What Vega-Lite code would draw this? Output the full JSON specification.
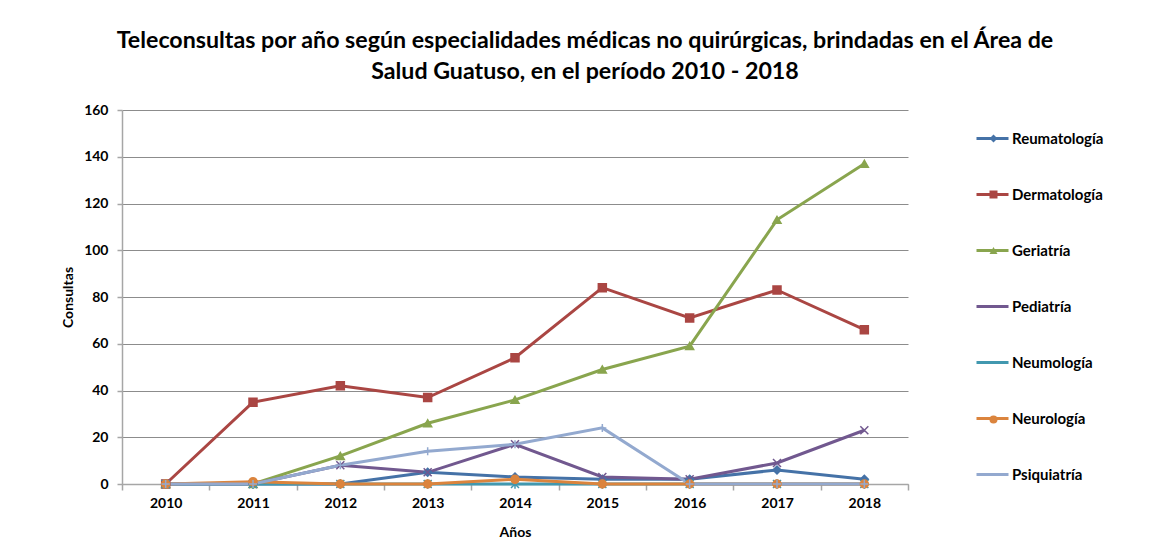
{
  "$schema": "https://vega.github.io/schema/vega-lite/v6.json",
  "width": 786,
  "height": 374,
  "autosize": {"type": "none"},
  "padding": {"left": 122, "top": 110, "right": 249, "bottom": 62},
  "background": "white",
  "title": {
    "text": ["Teleconsultas por año según especialidades médicas no quirúrgicas, brindadas en el Área de", "Salud Guatuso, en el período 2010 - 2018"],
    "font": "Lato",
    "fontSize": 23.2,
    "fontWeight": "bold",
    "color": "black",
    "anchor": "middle",
    "frame": "group",
    "dx": 70,
    "lineHeight": 31,
    "offset": 19
  },
  "config": {
    "view": {"stroke": null},
    "legend": {
      "symbolBaseFillColor": {"expr": "scale('color', datum.value)"}
    },
    "axis": {
      "labelFont": "Lato",
      "labelFontSize": 14,
      "labelFontWeight": "bold",
      "labelColor": "black",
      "titleFont": "Lato",
      "titleFontSize": 14,
      "titleFontWeight": "bold",
      "titleColor": "black",
      "domainColor": "#a6a6a6",
      "tickColor": "#a6a6a6",
      "domainWidth": 1.5,
      "tickWidth": 1.5
    }
  },
  "data": {
    "values": [
      {"Año": "2010", "Especialidad": "Reumatología", "Consultas": 0},
      {"Año": "2011", "Especialidad": "Reumatología", "Consultas": 0},
      {"Año": "2012", "Especialidad": "Reumatología", "Consultas": 0},
      {"Año": "2013", "Especialidad": "Reumatología", "Consultas": 5},
      {"Año": "2014", "Especialidad": "Reumatología", "Consultas": 3},
      {"Año": "2015", "Especialidad": "Reumatología", "Consultas": 2},
      {"Año": "2016", "Especialidad": "Reumatología", "Consultas": 2},
      {"Año": "2017", "Especialidad": "Reumatología", "Consultas": 6},
      {"Año": "2018", "Especialidad": "Reumatología", "Consultas": 2},
      {"Año": "2010", "Especialidad": "Dermatología", "Consultas": 0},
      {"Año": "2011", "Especialidad": "Dermatología", "Consultas": 35},
      {"Año": "2012", "Especialidad": "Dermatología", "Consultas": 42},
      {"Año": "2013", "Especialidad": "Dermatología", "Consultas": 37},
      {"Año": "2014", "Especialidad": "Dermatología", "Consultas": 54},
      {"Año": "2015", "Especialidad": "Dermatología", "Consultas": 84},
      {"Año": "2016", "Especialidad": "Dermatología", "Consultas": 71},
      {"Año": "2017", "Especialidad": "Dermatología", "Consultas": 83},
      {"Año": "2018", "Especialidad": "Dermatología", "Consultas": 66},
      {"Año": "2010", "Especialidad": "Geriatría", "Consultas": 0},
      {"Año": "2011", "Especialidad": "Geriatría", "Consultas": 0},
      {"Año": "2012", "Especialidad": "Geriatría", "Consultas": 12},
      {"Año": "2013", "Especialidad": "Geriatría", "Consultas": 26},
      {"Año": "2014", "Especialidad": "Geriatría", "Consultas": 36},
      {"Año": "2015", "Especialidad": "Geriatría", "Consultas": 49},
      {"Año": "2016", "Especialidad": "Geriatría", "Consultas": 59},
      {"Año": "2017", "Especialidad": "Geriatría", "Consultas": 113},
      {"Año": "2018", "Especialidad": "Geriatría", "Consultas": 137},
      {"Año": "2010", "Especialidad": "Pediatría", "Consultas": 0},
      {"Año": "2011", "Especialidad": "Pediatría", "Consultas": 0},
      {"Año": "2012", "Especialidad": "Pediatría", "Consultas": 8},
      {"Año": "2013", "Especialidad": "Pediatría", "Consultas": 5},
      {"Año": "2014", "Especialidad": "Pediatría", "Consultas": 17},
      {"Año": "2015", "Especialidad": "Pediatría", "Consultas": 3},
      {"Año": "2016", "Especialidad": "Pediatría", "Consultas": 2},
      {"Año": "2017", "Especialidad": "Pediatría", "Consultas": 9},
      {"Año": "2018", "Especialidad": "Pediatría", "Consultas": 23},
      {"Año": "2010", "Especialidad": "Neumología", "Consultas": 0},
      {"Año": "2011", "Especialidad": "Neumología", "Consultas": 0},
      {"Año": "2012", "Especialidad": "Neumología", "Consultas": 0},
      {"Año": "2013", "Especialidad": "Neumología", "Consultas": 0},
      {"Año": "2014", "Especialidad": "Neumología", "Consultas": 0},
      {"Año": "2015", "Especialidad": "Neumología", "Consultas": 0},
      {"Año": "2016", "Especialidad": "Neumología", "Consultas": 0},
      {"Año": "2017", "Especialidad": "Neumología", "Consultas": 0},
      {"Año": "2018", "Especialidad": "Neumología", "Consultas": 0},
      {"Año": "2010", "Especialidad": "Neurología", "Consultas": 0},
      {"Año": "2011", "Especialidad": "Neurología", "Consultas": 1},
      {"Año": "2012", "Especialidad": "Neurología", "Consultas": 0},
      {"Año": "2013", "Especialidad": "Neurología", "Consultas": 0},
      {"Año": "2014", "Especialidad": "Neurología", "Consultas": 2},
      {"Año": "2015", "Especialidad": "Neurología", "Consultas": 0},
      {"Año": "2016", "Especialidad": "Neurología", "Consultas": 0},
      {"Año": "2017", "Especialidad": "Neurología", "Consultas": 0},
      {"Año": "2018", "Especialidad": "Neurología", "Consultas": 0},
      {"Año": "2010", "Especialidad": "Psiquiatría", "Consultas": 0},
      {"Año": "2011", "Especialidad": "Psiquiatría", "Consultas": 0},
      {"Año": "2012", "Especialidad": "Psiquiatría", "Consultas": 8},
      {"Año": "2013", "Especialidad": "Psiquiatría", "Consultas": 14},
      {"Año": "2014", "Especialidad": "Psiquiatría", "Consultas": 17},
      {"Año": "2015", "Especialidad": "Psiquiatría", "Consultas": 24},
      {"Año": "2016", "Especialidad": "Psiquiatría", "Consultas": 0},
      {"Año": "2017", "Especialidad": "Psiquiatría", "Consultas": 0},
      {"Año": "2018", "Especialidad": "Psiquiatría", "Consultas": 0}
    ]
  },
  "encoding": {
    "x": {
      "field": "Año",
      "type": "ordinal",
      "scale": {"type": "band", "paddingInner": 0, "paddingOuter": 0},
      "axis": {
        "title": "Años",
        "labelAngle": 0,
        "tickBand": "extent",
        "tickSize": 6,
        "labelPadding": 6,
        "titlePadding": 15,
        "grid": false
      }
    },
    "y": {
      "field": "Consultas",
      "type": "quantitative",
      "scale": {"domain": [0, 160], "nice": false},
      "axis": {
        "title": "Consultas",
        "values": [0, 20, 40, 60, 80, 100, 120, 140, 160],
        "grid": true,
        "gridColor": "#8c8c8c",
        "gridWidth": 1,
        "tickSize": 5,
        "labelPadding": 9,
        "titlePadding": 8
      }
    }
  },
  "layer": [
    {
      "mark": {"type": "line", "strokeWidth": 3},
      "encoding": {
        "color": {
          "field": "Especialidad",
          "type": "nominal",
          "scale": {
            "domain": ["Reumatología", "Dermatología", "Geriatría", "Pediatría", "Neumología", "Neurología", "Psiquiatría"],
            "range": ["#4572A7", "#AA4643", "#89A54E", "#71588F", "#4198AF", "#DB843D", "#93A9CF"]
          },
          "legend": {
            "orient": "none",
            "legendX": 853,
            "legendY": 11,
            "title": null,
            "padding": 0,
            "symbolType": "stroke",
            "symbolSize": 1024,
            "symbolStrokeWidth": 3,
            "labelFont": "Lato",
            "labelFontSize": 15,
            "labelFontWeight": "bold",
            "labelColor": "black",
            "labelOffset": 2,
            "rowPadding": 30
          }
        }
      }
    },
    {
      "mark": {"type": "point", "filled": true, "size": 64, "strokeWidth": 1.5, "opacity": 1},
      "encoding": {
        "color": {
          "field": "Especialidad",
          "type": "nominal",
          "legend": null
        },
        "stroke": {
          "field": "Especialidad",
          "type": "nominal",
          "scale": {
            "domain": ["Reumatología", "Dermatología", "Geriatría", "Pediatría", "Neumología", "Neurología", "Psiquiatría"],
            "range": ["#4572A7", "#AA4643", "#89A54E", "#71588F", "#4198AF", "#DB843D", "#93A9CF"]
          },
          "legend": null
        },
        "shape": {
          "field": "Especialidad",
          "type": "nominal",
          "sort": ["Reumatología", "Dermatología", "Geriatría", "Pediatría", "Neumología", "Neurología", "Psiquiatría"],
          "scale": {
            "range": ["diamond", "square", "triangle-up", "M-1,-1L1,1M1,-1L-1,1", "M-1,-1L1,1M1,-1L-1,1M0,-1.2L0,1.2", "circle", "M0,-1L0,1M-1,0L1,0"]
          },
          "legend": {
            "orient": "none",
            "legendX": 864,
            "legendY": 21,
            "title": null,
            "padding": 0,
            "symbolSize": 64,
            "symbolStrokeColor": {"expr": "scale('color', datum.value)"},
            "symbolStrokeWidth": 1.5,
            "symbolOpacity": 1,
            "labelExpr": "''",
            "labelFontSize": 15,
            "rowPadding": 40
          }
        }
      }
    }
  ]
}
